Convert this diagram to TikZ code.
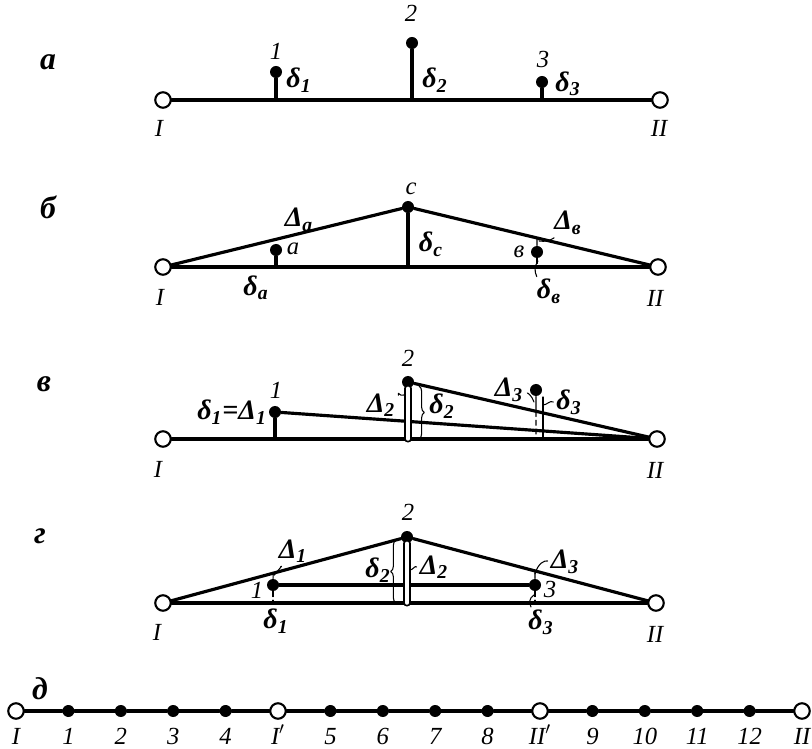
\documentclass[tikz,border=0pt]{standalone}
\usepackage{fontspec}
\setmainfont{Liberation Serif}
\usetikzlibrary{calc,decorations.pathreplacing}
\newcommand{\dl}[1]{δ\textsubscript{#1}}
\newcommand{\Dl}[1]{Δ\textsubscript{#1}}
\begin{document}
\begin{tikzpicture}[x=0.2mm,y=-0.2mm,line join=round,line cap=round,
	font=\fontsize{14}{16}\selectfont\itshape,
	hinge/.style={circle,draw,fill=white,line width=1.2pt,minimum size=3.1mm,inner sep=0pt},
	pt/.style={circle,fill,minimum size=2.4mm,inner sep=0pt},
	beam/.style={line width=1.8pt},
	lead/.style={line width=0.6pt},
	twin/.style={line width=1pt,double distance=0.7mm},
	gr/.style={font=\fontsize{16}{18}\selectfont\bfseries\itshape},
	tag/.style={font=\fontsize{18}{20}\selectfont\bfseries\itshape},
	brc/.style={lead,decorate,decoration={brace,amplitude=3pt}}]
	\useasboundingbox (0,0) rectangle (812,749);
	% a
	\node[tag] (ta) at (48,62) {а};
	\node[hinge] (aI) at (163,100) {};
	\node[hinge] (aII) at (660,100) {};
	\draw[beam] (aI) -- (aII);
	\node[pt] (a1) at (276,72) {};
	\node[pt] (a2) at (412,43) {};
	\node[pt] (a3) at (542,82) {};
	\foreach \p in {a1,a2,a3} \draw[beam] (\p) -- (\p |- aI);
	\node (la1) at (276,51) {1};
	\node (la2) at (411,13) {2};
	\node (la3) at (543,59) {3};
	\node[gr] (da1) at (299,80) {\dl{1}};
	\node[gr] (da2) at (435,80) {\dl{2}};
	\node[gr] (da3) at (568,84) {\dl{3}};
	\node (laI) at (159,128) {I};
	\node (laII) at (659,128) {II};
	% b
	\node[tag] (tb) at (48,207) {б};
	\node[hinge] (bI) at (163,267) {};
	\node[hinge] (bII) at (658,267) {};
	\node[pt] (bc) at (408,207) {};
	\node[pt] (ba) at (276,250) {};
	\node[pt] (bv) at (537,252) {};
	\draw[beam] (bI) -- (bII);
	\draw[beam] (bI) -- (bc) -- (bII);
	\draw[beam] (bc) -- (bc |- bI);
	\draw[beam] (ba) -- (ba |- bI);
	\coordinate (bvt) at ($(bc)!0.516!(bII)$);
	\draw[lead] (bvt) -- (bv);
	\draw[lead,densely dashed] (bv) -- (bv |- bI);
	\node (lbc) at (411,189) {с};
	\node (lba) at (293,249) {а};
	\node (lbv) at (519,252) {в};
	\node[gr] (Dba) at (299,220) {\Dl{а}};
	\node[gr] (dba) at (256,288) {\dl{а}};
	\node[gr] (dbc) at (431,244) {\dl{с}};
	\node[gr] (Dbv) at (568,223) {\Dl{в}};
	\node[gr] (dbv) at (549,291) {\dl{в}};
	\draw[lead] ($(Dbv.south west)+(6,-3)$) to[bend left=20] ($(bvt)+(2,3)$);
	\draw[lead] ($(dbv.north west)+(6,4)$) to[bend left=30] ($(bv |- bI)+(1,-6)$);
	\node (lbI) at (160,297) {I};
	\node (lbII) at (655,298) {II};
	% v
	\node[tag] (tv) at (44,384) {в};
	\node[hinge] (vI) at (163,439) {};
	\node[hinge] (vII) at (657,439) {};
	\node[pt] (v1) at (275,412) {};
	\node[pt] (v2) at (408,382) {};
	\node[pt] (v3) at (536,390) {};
	\draw[beam] (vI) -- (vII);
	\draw[beam] (v1) -- (v1 |- vI);
	\draw[beam] (v1) -- (vII);
	\draw[beam] (v2) -- (vII);
	\draw[twin] (v2) -- (v2 |- vI);
	\coordinate (v3m) at ($(v2)!0.514!(vII)$);
	\draw[lead] (v3) -- (v3m);
	\draw[lead,densely dashed] (v3m) -- (v3 |- vI);
	\draw[lead] ($(v3)+(7,7)$) -- ($(v3 |- vI)+(7,0)$);
	\draw[brc] (419,386) -- (419,439);
	\node (lv1) at (276,390) {1};
	\node (lv2) at (408,358) {2};
	\node[gr] (dv1) at (232,412) {\dl{1}=\Dl{1}};
	\node[gr] (Dv2) at (381,405) {\Dl{2}};
	\node[gr] (dv2) at (442,406) {\dl{2}};
	\node[gr] (Dv3) at (509,390) {\Dl{3}};
	\node[gr] (dv3) at (569,402) {\dl{3}};
	\draw[lead] ($(Dv2.north east)+(-3,8)$) .. controls (398,390) and (399,397) .. (404,395);
	\draw[lead] ($(Dv3.east)+(-2,3)$) .. controls (528,393) and (532,396) .. (534,402);
	\draw[lead] ($(dv3.west)+(3,0)$) .. controls (550,400) and (547,405) .. (543,405);
	\node (lvI) at (158,469) {I};
	\node (lvII) at (655,470) {II};
	% g
	\node[tag] (tg) at (40,536) {г};
	\node[hinge] (gI) at (163,603) {};
	\node[hinge] (gII) at (656,603) {};
	\node[pt] (g2) at (407,537) {};
	\node[pt] (g1) at (273,585) {};
	\node[pt] (g3) at (535,585) {};
	\draw[beam] (gI) -- (gII);
	\draw[beam] (gI) -- (g2) -- (gII);
	\draw[beam] (g1) -- (g3);
	\draw[twin] (g2) -- (g2 |- gI);
	\coordinate (g1t) at ($(gI)!0.451!(g2)$);
	\coordinate (g3t) at ($(g2)!0.514!(gII)$);
	\draw[lead] (g1t) -- (g1);
	\draw[lead,densely dashed] (g1) -- (g1 |- gI);
	\draw[lead] (g3t) -- (g3);
	\draw[lead,densely dashed] (g3) -- (g3 |- gI);
	\draw[brc] (396,603) -- (396,540);
	\node (lg2) at (408,512) {2};
	\node (lg1) at (257,590) {1};
	\node (lg3) at (550,589) {3};
	\node[gr] (Dg1) at (293,551) {\Dl{1}};
	\node[gr] (dg1) at (276,621) {\dl{1}};
	\node[gr] (dg2) at (378,570) {\dl{2}};
	\node[gr] (Dg2) at (434,567) {\Dl{2}};
	\node[gr] (Dg3) at (565,562) {\Dl{3}};
	\node[gr] (dg3) at (541,622) {\dl{3}};
	\draw[lead] ($(Dg1.south west)+(8,-2)$) .. controls (283,565) and (280,568) .. ($(g1t)+(1,2)$);
	\draw[lead] ($(Dg2.west)+(3,0)$) .. controls (415,565) and (413,570) .. (410,570);
	\draw[lead] ($(Dg3.west)+(3,-1)$) .. controls (545,560) and (538,563) .. ($(g3t)+(0,3)$);
	\draw[lead] (534,595) .. controls (529,598) and (529,603) .. (531,607);
	\node (lgI) at (157,632) {I};
	\node (lgII) at (655,634) {II};
	% d
	\node[tag] (td) at (40,689) {д};
	\foreach \k in {0,5,10,15} \node[hinge] (d\k) at (16+52.4*\k,711) {};
	\foreach \k in {1,2,3,4,6,7,8,9,11,12,13,14} \node[pt] (d\k) at (16+52.4*\k,711) {};
	\foreach \k [evaluate=\k as \n using int(\k+1)] in {0,...,14} \draw[beam] (d\k) -- (d\n);
	\foreach \t [count=\k from 0] in {I,1,2,3,4,I$'$,5,6,7,8,II$'$,9,10,11,12,II}
		\node[anchor=base] (ld\k) at (16+52.4*\k,744) {\t};
\end{tikzpicture}
\end{document}
